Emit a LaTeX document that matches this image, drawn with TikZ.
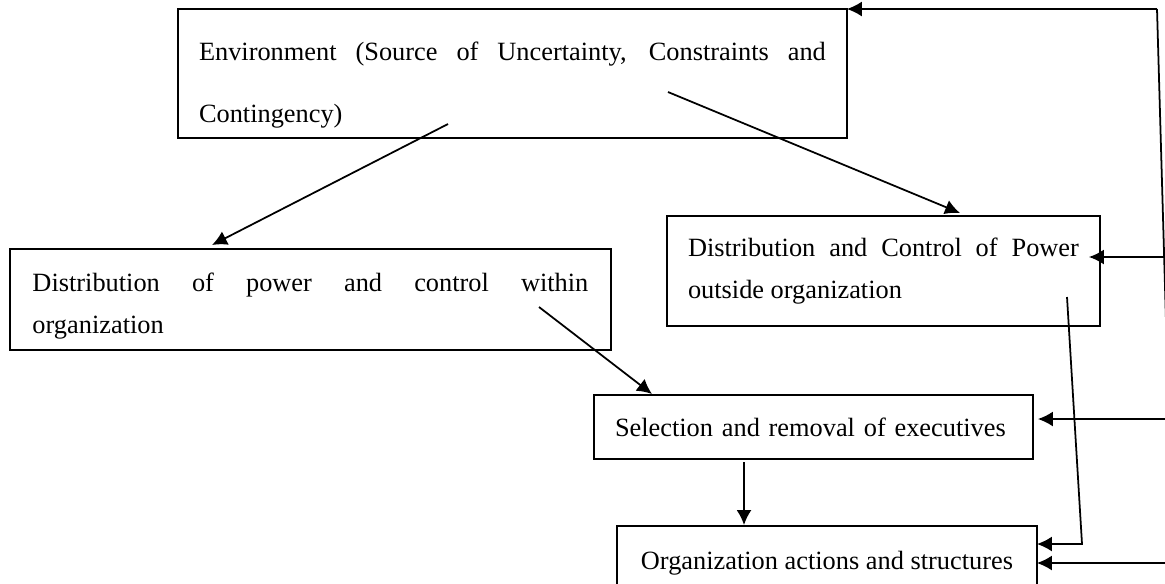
\documentclass[tikz,border=0pt]{standalone}
\usepackage{fontspec}
\setmainfont{Liberation Serif}
\usepackage{tikz}
\usetikzlibrary{arrows.meta,calc}
\hyphenpenalty=10000
\exhyphenpenalty=10000
\tikzset{
  box/.style={draw=black, line width=1pt, anchor=north west, outer sep=0pt, inner xsep=0.42cm, inner ysep=0pt, font=\fontsize{15}{24}\selectfont},
  widebox/.style={box, align=justify},
  linebox/.style={box, align=left},
  arrow/.style={-{Latex[length=8.5pt,width=8.5pt]}, line width=1pt},
  plainline/.style={line width=1pt}
}

\begin{document}
\begin{tikzpicture}[x=0.02cm, y=-0.02cm]
\useasboundingbox (0,0) rectangle (1165,583);
\node[widebox, text width=12.54cm, minimum width=13.38cm, minimum height=2.58cm, font=\fontsize{15}{35}\selectfont] (env) at (178,9) {\rule{0pt}{24pt}Environment (Source of Uncertainty, Constraints and Contingency)};
\node[widebox, text width=11.12cm, minimum width=12.02cm, minimum height=2.02cm] (within) at (10,249) {\spaceskip=3.75pt plus 20pt\relax\rule{0pt}{18pt}Distribution of power and control within organization};
\node[widebox, text width=7.82cm, minimum width=8.66cm, minimum height=2.2cm] (outside) at (667,216) {Distribution and Control of Power outside organization};
\node[linebox, text width=7.94cm, minimum width=8.78cm, minimum height=1.28cm] (select) at (594,395) {Selection and removal of executives};
\node[box, minimum width=8.4cm, minimum height=1.48cm] (org) at (617,526) {Organization actions and structures};
\coordinate (envA) at (448,124);
\coordinate (envB) at (668,92);
\coordinate (withinA) at (539,307);
\coordinate (outsideA) at (1067,297);
\coordinate (bend) at (1082,544);
\coordinate (rtop) at (1157,9);
\coordinate (rbot) at (1174,600);
\coordinate (rB) at (1164,257);
\coordinate (rC) at (1169,419);
\coordinate (rD) at (1173,563);
\draw[arrow] (envA) -- ($(within.north west)+(202,-4)$);
\draw[arrow] (envB) -- ($(outside.north west)+(293,-3)$);
\draw[arrow] (withinA) -- ($(select.north west)+(58,-1)$);
\draw[arrow] ($(select.south west)+(150,3)$) -- ($(org.north west)+(127,-1)$);
\draw[arrow] (outsideA) -- (bend) -- (bend -| org.east);
\draw[plainline] (rtop) -- (rbot);
\draw[arrow] (rtop) -- (env.north east);
\draw[arrow] (rB) -- ($(outside.east)+(-11,-14)$);
\draw[arrow] (rC) -- ($(select.east)+(5,-8)$);
\draw[arrow] (rD) -- (org.east);
\end{tikzpicture}
\end{document}
